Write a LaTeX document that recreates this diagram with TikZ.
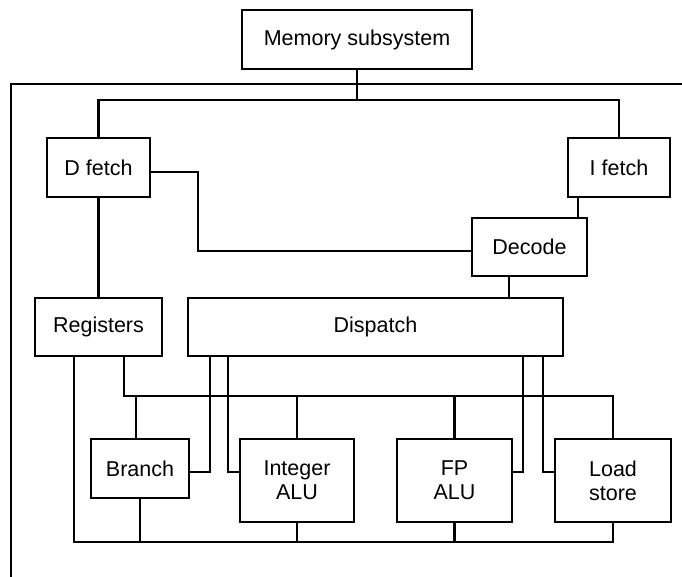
\documentclass[tikz,border=0pt]{standalone}
\usepackage{fontspec}
\setmainfont{Liberation Sans}
\begin{document}
\begin{tikzpicture}[x=1pt,y=-1pt,line width=2.2pt,
  unit/.style={draw,inner sep=0pt,align=center,
    font=\fontsize{21.5}{24}\selectfont},
  wire/.style={draw,line join=miter}]
\useasboundingbox (0,0) rectangle (682,577);

% functional blocks
\node[unit,minimum width=230pt,minimum height=59pt] (mem) at (357,39.5) {Memory subsystem};
\node[unit,minimum width=103pt,minimum height=59pt] (dfetch) at (98.5,167.5) {D fetch};
\node[unit,minimum width=102pt,minimum height=59pt] (ifetch) at (619,167.5) {I fetch};
\node[unit,minimum width=115pt,minimum height=58pt] (decode) at (529.5,247) {Decode};
\node[unit,minimum width=127pt,minimum height=58pt] (regs) at (98.5,327) {Registers};
\node[unit,minimum width=375pt,minimum height=58pt] (dispatch) at (375.5,327) {Dispatch};
\node[unit,minimum width=98pt,minimum height=59pt] (branch) at (140,468.5) {Branch};
\node[unit,minimum width=114pt,minimum height=83pt] (intalu) at (297,480.5) {Integer\\ALU};
\node[unit,minimum width=115pt,minimum height=83pt] (fpalu) at (454.5,480.5) {FP\\ALU};
\node[unit,minimum width=116pt,minimum height=83pt] (ldst) at (613,480.5) {Load\\store};

% bus levels and bends
\coordinate (frameR) at (682,84);
\coordinate (frameL) at (11,84);
\coordinate (frameB) at (11,577);
\coordinate (fetchbus) at (357,100);
\coordinate (dk) at (198,251);
\coordinate (busT) at (124,396);
\coordinate (busB) at (74,542);
\coordinate (tap) at (0,472);

% enclosing frame
\draw[wire] (frameR) -- (frameL) -- (frameB);

% memory to the fetch units
\draw[wire] (mem.south) -- (fetchbus);
\draw[wire] (dfetch.north) -- (dfetch.north |- fetchbus) -- (ifetch.north |- fetchbus) -- (ifetch.north);

% fetch to decode
\draw[wire] (dfetch.east |- 0,172) -| (dk) -- (decode.west |- dk);
\draw[wire] (ifetch.south -| 578,0) -- (decode.north -| 578,0);

% decode to dispatch, D fetch to registers
\draw[wire] (decode.south -| 509,0) -- (dispatch.north -| 509,0);
\draw[wire] (dfetch.south) -- (regs.north);

% register read bus
\draw[wire] (regs.south -| busT) -- (busT) -- (ldst.north |- busT) -- (ldst.north);
\draw[wire] (branch.north -| 136,0) -- (busT -| 136,0);
\draw[wire] (intalu.north) -- (intalu.north |- busT);
\draw[wire] (fpalu.north) -- (fpalu.north |- busT);

% register write-back bus
\draw[wire] (regs.south -| busB) -- (busB) -- (ldst.south |- busB) -- (ldst.south);
\draw[wire] (branch.south) -- (branch.south |- busB);
\draw[wire] (intalu.south) -- (intalu.south |- busB);
\draw[wire] (fpalu.south) -- (fpalu.south |- busB);

% dispatch issue lines
\draw[wire] (dispatch.south -| 210,0) |- (branch.east |- tap);
\draw[wire] (dispatch.south -| 228,0) |- (intalu.west |- tap);
\draw[wire] (dispatch.south -| 523,0) |- (fpalu.east |- tap);
\draw[wire] (dispatch.south -| 543,0) |- (ldst.west |- tap);
\end{tikzpicture}
\end{document}
